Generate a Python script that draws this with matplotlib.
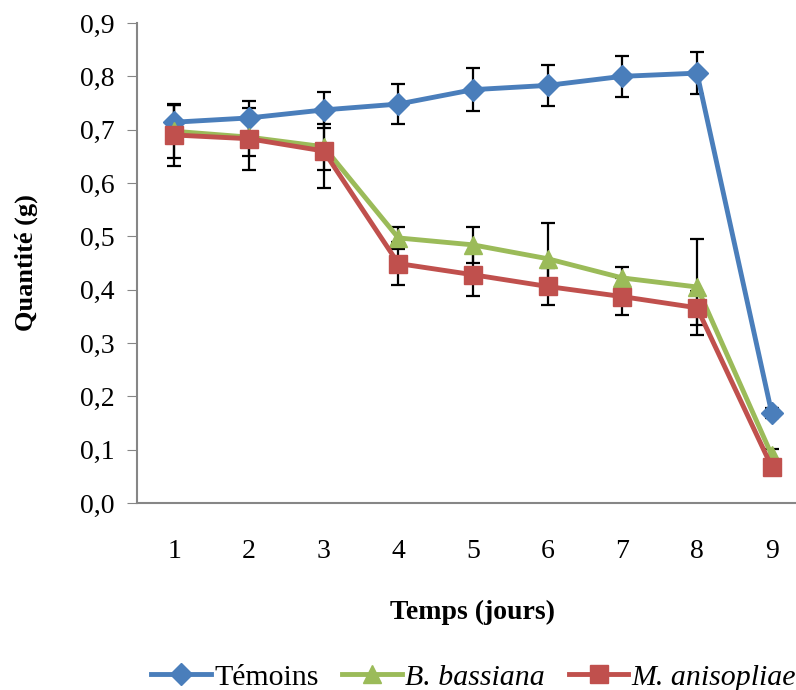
import numpy as np
import matplotlib
matplotlib.use("Agg")
import matplotlib.pyplot as plt
from matplotlib.ticker import FuncFormatter

# Days and mean amounts (g) with their error bars
jours = [1, 2, 3, 4, 5, 6, 7, 8, 9]

temoins = [0.714, 0.722, 0.737, 0.748, 0.775, 0.783, 0.800, 0.806, 0.169]
temoins_err = [0.032, 0.032, 0.034, 0.038, 0.040, 0.038, 0.038, 0.039, 0.010]

bassiana = [0.697, 0.686, 0.668, 0.497, 0.484, 0.458, 0.422, 0.405, 0.090]
bassiana_err = [0.050, 0.035, 0.043, 0.020, 0.034, 0.067, 0.021, 0.090, 0.012]

anisopliae = [0.690, 0.683, 0.660, 0.449, 0.428, 0.406, 0.387, 0.366, 0.068]
anisopliae_err = [0.058, 0.058, 0.070, 0.040, 0.040, 0.034, 0.035, 0.032, 0.010]

plt.rcParams['font.family'] = ['Liberation Serif', 'DejaVu Serif']

fig = plt.figure(figsize=(7.96, 6.9), dpi=100)
ax = fig.add_axes([137 / 796, 1 - 503 / 690, (809 - 137) / 796, (503 - 23) / 690])

series = [
    (temoins, temoins_err, '#4A7EBB', 'D', 11, 'Témoins'),
    (bassiana, bassiana_err, '#9BBB59', '^', 13, 'B. bassiana'),
    (anisopliae, anisopliae_err, '#C0504D', 's', 13, 'M. anisopliae'),
]

for vals, err, col, mk, ms, lab in series:
    ax.errorbar(jours, vals, yerr=err, fmt='none', ecolor='black',
                elinewidth=1.6, capsize=5, capthick=1.6, zorder=1)
for i, (vals, err, col, mk, ms, lab) in enumerate(series):
    ax.plot(jours, vals, color=col, lw=3.5, marker=mk, markersize=ms,
            markeredgecolor=col, label=lab, zorder=3 + i, clip_on=False)

ax.set_xlim(0.5, 9.5)
ax.set_ylim(0, 0.9)
ax.set_yticks(np.arange(0, 0.91, 0.1))
ax.yaxis.set_major_formatter(FuncFormatter(lambda v, p: f"{v:.1f}".replace('.', ',')))
ax.set_xticks(jours)

for s in ['top', 'right']:
    ax.spines[s].set_visible(False)
for s in ['left', 'bottom']:
    ax.spines[s].set_color('#868686')
    ax.spines[s].set_linewidth(1.5)

ax.tick_params(axis='y', direction='out', length=7, color='#868686', labelsize=20, pad=9)
ax.tick_params(axis='x', length=0, labelsize=20, pad=26)

ax.set_ylabel('Quantité (g)', fontsize=19, fontweight='bold', labelpad=30)
ax.set_xlabel('Temps (jours)', fontsize=20, fontweight='bold', labelpad=26)

leg = fig.legend(loc='lower center', bbox_to_anchor=(0.595, -0.04), ncol=3,
                 frameon=False, fontsize=21.5, handlelength=2.0,
                 columnspacing=0.8, handletextpad=0.1)
for t in leg.get_texts()[1:]:
    t.set_fontstyle('italic')

fig.savefig('out.png', dpi=100)
